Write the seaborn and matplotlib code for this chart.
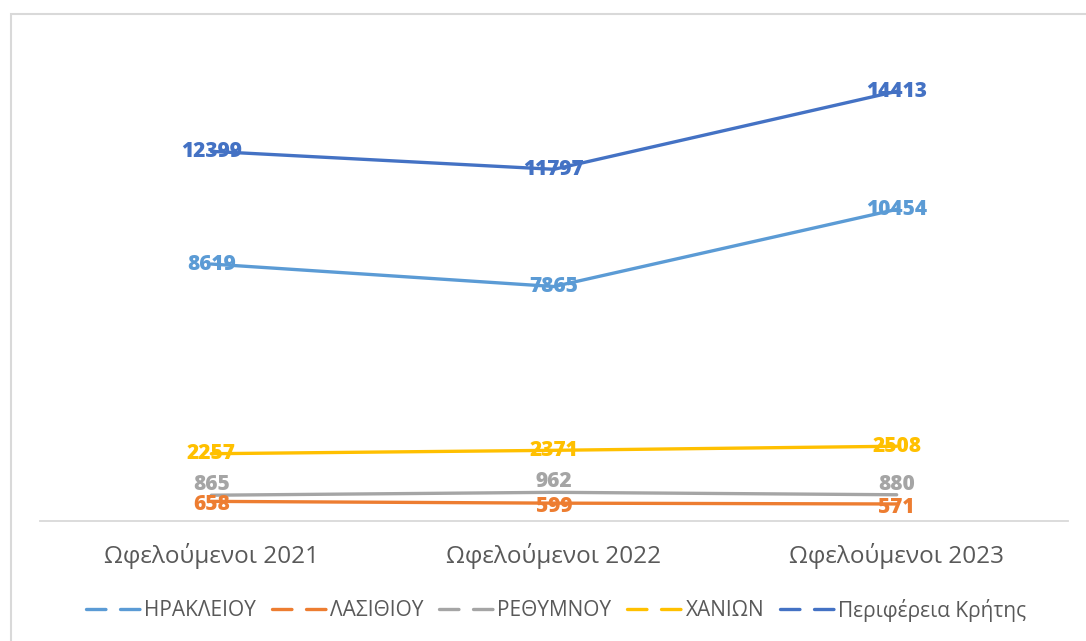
import matplotlib
matplotlib.use("Agg")
import matplotlib.pyplot as plt
from matplotlib.lines import Line2D
from matplotlib.patches import Rectangle
import seaborn as sns
import pandas as pd

# Data
categories = ["Ωφελούμενοι 2021", "Ωφελούμενοι 2022", "Ωφελούμενοι 2023"]
series_names = ["ΗΡΑΚΛΕΙΟΥ", "ΛΑΣΙΘΙΟΥ", "ΡΕΘΥΜΝΟΥ", "ΧΑΝΙΩΝ", "Περιφέρεια Κρήτης"]
heraklion = [8619, 7865, 10454]
lasithi = [658, 599, 571]
rethymno = [865, 962, 880]
chania = [2257, 2371, 2508]
crete = [12399, 11797, 14413]
series_values = [heraklion, lasithi, rethymno, chania, crete]

colors = ["#5B9BD5", "#ED7D31", "#A5A5A5", "#FFC000", "#4472C4"]
# vertical nudge of the value labels (points) for each series
label_dy = [0, -2.5, 7.5, 0, 0]

rows = []
for name, vals in zip(series_names, series_values):
    for i, (cat, v) in enumerate(zip(categories, vals)):
        rows.append({"cat": cat, "x": i, "series": name, "value": v})
df = pd.DataFrame(rows)

sns.set_theme(style="white")
plt.rcParams["font.family"] = ["Open Sans", "DejaVu Sans"]
plt.rcParams["lines.scale_dashes"] = False

W, H = 1086, 641
fig = plt.figure(figsize=(W / 100, H / 100), dpi=100)
left, right, bottom, top = 40, 1068, 521, 44
ax = fig.add_axes([left / W, 1 - bottom / H, (right - left) / W, (bottom - top) / H])

palette = dict(zip(series_names, colors))
sns.lineplot(data=df, x="x", y="value", hue="series", hue_order=series_names,
             palette=palette, linewidth=2.4, ax=ax, legend=False, sort=False)
for ln in ax.lines:
    ln.set_solid_capstyle("round")

ax.set_xlim(-0.5, 2.5)
ax.set_ylim(0, 16000)
ax.set_xticks(range(len(categories)))
ax.set_xticklabels(categories)
ax.set_yticks([])
ax.set_xlabel("")
ax.set_ylabel("")
for s in ["top", "left", "right"]:
    ax.spines[s].set_visible(False)
ax.spines["bottom"].set_color("#D9D9D9")
ax.spines["bottom"].set_linewidth(1.3)
ax.tick_params(axis="x", length=0, pad=16, labelsize=17.5, labelcolor="#595959")

# value labels
for name, vals, c, dy in zip(series_names, series_values, colors, label_dy):
    for i, v in enumerate(vals):
        ax.annotate(str(v), (i, v), xytext=(0, dy), textcoords="offset points",
                    ha="center", va="center", fontsize=15, fontweight="heavy",
                    color=c, family=["Open Sans", "DejaVu Sans"], zorder=5)

# chart frame
fig.patches.append(Rectangle((11 / W, -0.1), 1.2, 1 - 14 / H + 0.1,
                             transform=fig.transFigure, fill=False,
                             edgecolor="#D9D9D9", linewidth=1.5))

# legend
handles = [Line2D([0], [0], color=c, lw=2.4, linestyle=(0, (14, 10.5)),
                  dash_capstyle="round") for c in colors]
fig.legend(handles, series_names, loc="center", bbox_to_anchor=(556 / W, 1 - 610 / H),
           ncol=5, frameon=False, fontsize=15, handlelength=2.6, handletextpad=0.2,
           columnspacing=0.75, labelcolor="#595959")

fig.savefig("out.png", dpi=100, facecolor="white")
